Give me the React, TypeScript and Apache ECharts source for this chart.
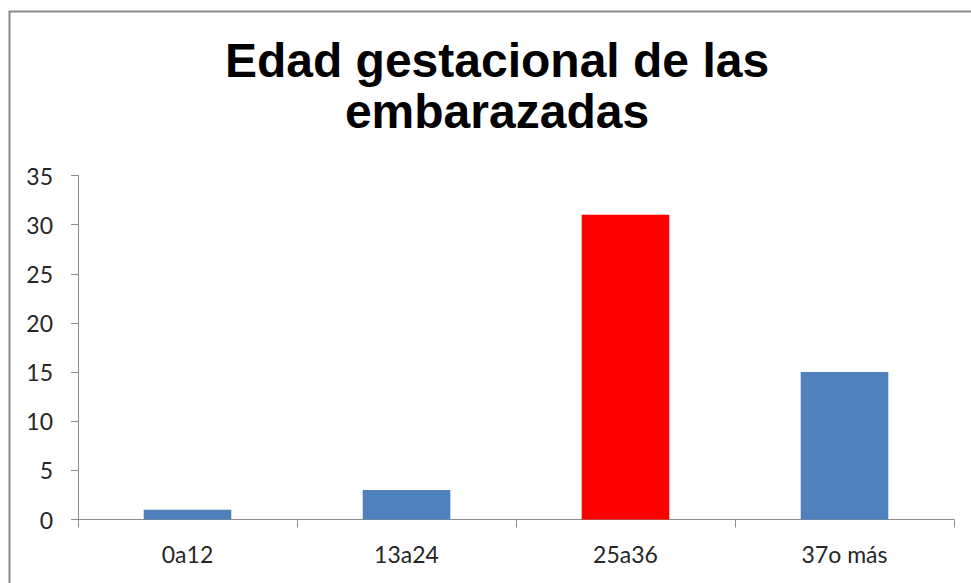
import React, { useEffect, useRef } from "react";
import * as echarts from "echarts";

const categories = ["0a12", "13a24", "25a36", "37o más"];
const values = [1, 3, 31, 15];
const barColors = ["#4F81BD", "#4F81BD", "#FF0000", "#4F81BD"];
const titleLines = ["Edad gestacional de las", "embarazadas"];

export default function App() {
  const ref = useRef<HTMLDivElement>(null);
  useEffect(() => {
    if (!ref.current) return;
    const chart = echarts.init(ref.current, undefined, { renderer: "svg" });
    const labelFont = "Lato, 'Open Sans', sans-serif";
    chart.setOption({
      animation: false,
      backgroundColor: "#ffffff",
      title: {
        text: titleLines.join("\n"),
        left: 492,
        top: 30,
        textAlign: "center",
        textStyle: {
          fontFamily: "'Liberation Sans', Arial, sans-serif",
          fontWeight: "bold",
          fontSize: 48,
          lineHeight: 51,
          color: "#000000",
        },
      },
      graphic: [
        {
          type: "rect",
          shape: { x: 9.5, y: 11.5, width: 1000, height: 1000 },
          style: { fill: "none", stroke: "#8a8a8a", lineWidth: 2 },
          silent: true,
          z: 100,
        },
      ],
      grid: { left: 78, right: 17, top: 175.5, bottom: 63.5, containLabel: false },
      xAxis: {
        type: "category",
        data: categories,
        axisLine: { show: true, lineStyle: { color: "#8c8c8c", width: 1 } },
        axisTick: { show: true, alignWithLabel: false, length: 8, lineStyle: { color: "#8c8c8c" } },
        axisLabel: { color: "#262626", fontSize: 23, fontFamily: labelFont, margin: 23 },
        splitLine: { show: false },
      },
      yAxis: {
        type: "value",
        min: 0,
        max: 35,
        interval: 5,
        axisLine: { show: true, lineStyle: { color: "#8c8c8c", width: 1 } },
        axisTick: { show: true, length: 7, lineStyle: { color: "#8c8c8c" } },
        axisLabel: { color: "#262626", fontSize: 23, fontFamily: labelFont, margin: 25 },
        splitLine: { show: false },
      },
      series: [
        {
          type: "bar",
          barWidth: "40%",
          data: values.map((v, i) => ({ value: v, itemStyle: { color: barColors[i] } })),
        },
      ],
    });
    return () => chart.dispose();
  }, []);
  return (
    <div
      ref={ref}
      style={{ position: "fixed", left: 0, top: 0, width: 971, height: 583 }}
    />
  );
}
